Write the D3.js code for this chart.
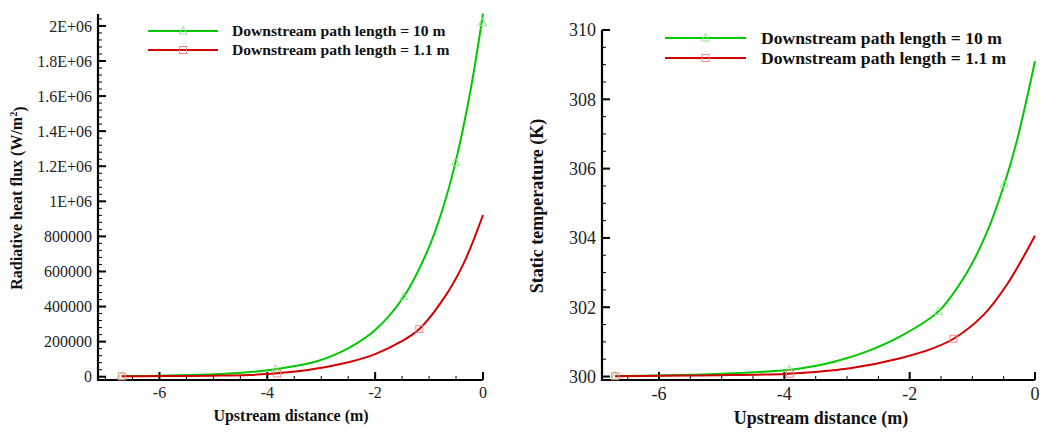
<!DOCTYPE html>
<html>
<head>
<meta charset="utf-8">
<script src="https://cdn.jsdelivr.net/npm/d3@7"></script>
<style>
  body { margin: 0; background: #fff; }
  svg { display: block; }
</style>
</head>
<body>
<svg id="chart" width="1046" height="434"></svg>
<script>
'use strict';

// ---- data ----
var seriesNames = ["Downstream path length = 10 m", "Downstream path length = 1.1 m"];

// left panel: radiative heat flux (W/m2) vs upstream distance (m)
var fluxLongX = [-6.7, -6.0, -5.0, -4.32, -3.85, -3.08, -2.46, -2.0, -1.47, -1.04, -0.76, -0.51, -0.236, 0];
var fluxLongY = [3000, 6000, 13500, 26500, 43000, 88000, 169000, 266000, 456000, 710000, 945000, 1222000, 1625000, 2070000];
var fluxShortX = [-6.7, -6.0, -5.0, -4.32, -3.82, -3.08, -2.46, -2.0, -1.53, -1.18, -0.73, -0.36, 0];
var fluxShortY = [2000, 3500, 6000, 10000, 19000, 47000, 85500, 129000, 198000, 272000, 445000, 645000, 922000];
var fluxLongMarkX = [-6.7, -3.85, -1.47, -0.51, -0.01];
var fluxLongMarkY = [3000, 43000, 456000, 1222000, 2020000];
var fluxShortMarkX = [-6.7, -3.82, -1.18];
var fluxShortMarkY = [2000, 19000, 272000];
var fluxTicks = [0, 200000, 400000, 600000, 800000, 1000000, 1200000, 1400000, 1600000, 1800000, 2000000];
var fluxTickLabels = ["0", "200000", "400000", "600000", "800000", "1E+06", "1.2E+06", "1.4E+06", "1.6E+06", "1.8E+06", "2E+06"];

// right panel: static temperature (K) vs upstream distance (m)
var tempLongX = [-6.7, -6.0, -5.0, -4.0, -3.75, -3.22, -2.69, -2.15, -1.54, -1.09, -0.77, -0.49, -0.29, 0];
var tempLongY = [300.015, 300.03, 300.08, 300.18, 300.23, 300.42, 300.72, 301.16, 301.88, 302.99, 304.15, 305.55, 306.8, 309.1];
var tempShortX = [-6.7, -6.0, -5.0, -4.0, -3.75, -2.95, -2.15, -1.62, -1.3, -0.82, -0.45, 0];
var tempShortY = [300.01, 300.02, 300.04, 300.075, 300.1, 300.24, 300.53, 300.82, 301.09, 301.78, 302.65, 304.06];
var tempLongMarkX = [-6.7, -3.92, -1.54, -0.49];
var tempLongMarkY = [300.015, 300.19, 301.88, 305.55];
var tempShortMarkX = [-6.7, -3.91, -1.3];
var tempShortMarkY = [300.01, 300.08, 301.09];
var tempTicks = [300, 302, 304, 306, 308, 310];
var tempTickLabels = ["300", "302", "304", "306", "308", "310"];

var distTicks = [-6, -4, -2, 0];
var distTickLabels = ["-6", "-4", "-2", "0"];

var GREEN = "#00c800";
var RED = "#d00000";
var SERIF = "'Liberation Serif', Tinos, 'Times New Roman', 'DejaVu Serif', serif";

var svg = d3.select("#chart");

function zip(xs, ys) {
    return xs.map(function(x, i) { return [x, ys[i]]; });
}

function drawPanel(cfg) {
    var x = d3.scaleLinear().domain(cfg.xDomain).range(cfg.xRange);
    var y = d3.scaleLinear().domain(cfg.yDomain).range(cfg.yRange);
    var g = svg.append("g");
    var x0 = cfg.xRange[0], y0 = cfg.yRange[0];

    // minor ticks
    var xMinor = d3.range(Math.ceil(cfg.xDomain[0] / 0.5) * 0.5, 0.001, 0.5);
    g.selectAll(".xminor").data(xMinor).enter().append("line")
        .attr("x1", function(d) { return x(d); }).attr("x2", function(d) { return x(d); })
        .attr("y1", y0).attr("y2", y0 - 4)
        .attr("stroke", "#000").attr("stroke-width", 1);
    var yMinor = d3.range(cfg.yMinorStart, cfg.yDomain[1] + 1e-9, cfg.yMinorStep);
    g.selectAll(".yminor").data(yMinor).enter().append("line")
        .attr("x1", x0).attr("x2", x0 + 4)
        .attr("y1", function(d) { return y(d); }).attr("y2", function(d) { return y(d); })
        .attr("stroke", "#000").attr("stroke-width", 1);

    // major ticks
    g.selectAll(".xmajor").data(distTicks).enter().append("line")
        .attr("x1", function(d) { return x(d); }).attr("x2", function(d) { return x(d); })
        .attr("y1", y0).attr("y2", y0 - 8)
        .attr("stroke", "#000").attr("stroke-width", 2);
    g.selectAll(".ymajor").data(cfg.yTicks).enter().append("line")
        .attr("x1", x0).attr("x2", x0 + 8)
        .attr("y1", function(d) { return y(d); }).attr("y2", function(d) { return y(d); })
        .attr("stroke", "#000").attr("stroke-width", 2);

    // axis lines
    g.append("path")
        .attr("d", "M" + x0 + "," + cfg.yRange[1] + "V" + y0 + "H" + cfg.xRange[1])
        .attr("fill", "none").attr("stroke", "#000").attr("stroke-width", 2.2);

    // tick labels
    g.selectAll(".xlab").data(distTicks).enter().append("text")
        .attr("x", function(d) { return x(d); })
        .attr("y", y0 + cfg.fontSize + 2)
        .attr("text-anchor", "middle")
        .style("font-family", SERIF).style("fill", "#222")
        .style("font-size", cfg.fontSize + "px")
        .text(function(d, i) { return distTickLabels[i]; });
    g.selectAll(".ylab").data(cfg.yTicks).enter().append("text")
        .attr("x", x0 - 6)
        .attr("y", function(d) { return y(d); })
        .attr("dy", "0.35em")
        .attr("text-anchor", "end")
        .style("font-family", SERIF).style("fill", "#222")
        .style("font-size", cfg.fontSize + "px")
        .text(function(d, i) { return cfg.yTickLabels[i]; });

    // titles
    g.append("text")
        .attr("x", cfg.xTitlePos[0]).attr("y", cfg.xTitlePos[1])
        .attr("text-anchor", "middle")
        .style("font-family", SERIF).style("font-weight", "bold").style("fill", "#111")
        .style("font-size", cfg.titleSize + "px")
        .text("Upstream distance (m)");
    var yt = g.append("text")
        .attr("transform", "translate(" + cfg.yTitlePos[0] + "," + cfg.yTitlePos[1] + ") rotate(-90)")
        .attr("text-anchor", "middle")
        .style("font-family", SERIF).style("font-weight", "bold").style("fill", "#111")
        .style("font-size", cfg.titleSize + "px");
    yt.append("tspan").text(cfg.yTitle[0]);
    if (cfg.yTitle.length > 1) {
        yt.append("tspan").attr("dy", "-0.45em").style("font-size", (cfg.titleSize * 0.65) + "px").text(cfg.yTitle[1]);
        yt.append("tspan").attr("dy", "0.45em").text(cfg.yTitle[2]);
    }

    // curves
    var line = d3.line()
        .x(function(d) { return x(d[0]); })
        .y(function(d) { return y(d[1]); })
        .curve(d3.curveCatmullRom.alpha(0.5));

    cfg.series.forEach(function(s) {
        g.append("path")
            .datum(zip(s.xs, s.ys))
            .attr("d", line)
            .attr("fill", "none")
            .attr("stroke", s.color)
            .attr("stroke-width", 2);
        drawMarkers(g, zip(s.mx, s.my).map(function(p) { return [x(p[0]), y(p[1])]; }), s.marker, s.markColor);
    });

    // legend
    cfg.series.forEach(function(s, i) {
        var ly = cfg.legend.y + i * cfg.legend.gap;
        g.append("line")
            .attr("x1", cfg.legend.x1).attr("x2", cfg.legend.x2)
            .attr("y1", ly).attr("y2", ly)
            .attr("stroke", s.color).attr("stroke-width", 2);
        drawMarkers(g, [[(cfg.legend.x1 + cfg.legend.x2) / 2, ly]], s.marker, s.markColor);
        g.append("text")
            .attr("x", cfg.legend.tx).attr("y", ly)
            .attr("dy", "0.35em")
            .style("font-family", SERIF).style("font-weight", "bold").style("fill", "#111")
            .style("font-size", cfg.legend.size + "px")
            .text(seriesNames[i]);
    });
}

function drawMarkers(g, pts, type, color) {
    if (type === "triangle") {
        g.selectAll(null).data(pts).enter().append("path")
            .attr("d", function(p) {
                return "M" + p[0] + "," + (p[1] - 4.5) + "L" + (p[0] + 4) + "," + (p[1] + 3) + "L" + (p[0] - 4) + "," + (p[1] + 3) + "Z";
            })
            .attr("fill", "none").attr("stroke", color).attr("stroke-width", 1);
    } else {
        g.selectAll(null).data(pts).enter().append("rect")
            .attr("x", function(p) { return p[0] - 3.5; })
            .attr("y", function(p) { return p[1] - 3.5; })
            .attr("width", 7).attr("height", 7)
            .attr("fill", "none").attr("stroke", color).attr("stroke-width", 1);
    }
}

drawPanel({
    xDomain: [-7.14, 0], xRange: [98, 483],
    yDomain: [-18800, 2068000], yRange: [380, 14],
    yTicks: fluxTicks, yTickLabels: fluxTickLabels,
    yMinorStart: 0, yMinorStep: 40000,
    fontSize: 16, titleSize: 16,
    xTitlePos: [291, 421],
    yTitlePos: [22, 198],
    yTitle: ["Radiative heat flux (W/m", "2", ")"],
    legend: { x1: 148, x2: 218, y: 31, gap: 19, tx: 232, size: 15.6 },
    series: [
        { xs: fluxLongX, ys: fluxLongY, mx: fluxLongMarkX, my: fluxLongMarkY, color: GREEN, marker: "triangle", markColor: "#8fe68f" },
        { xs: fluxShortX, ys: fluxShortY, mx: fluxShortMarkX, my: fluxShortMarkY, color: RED, marker: "square", markColor: "#f08a8a" }
    ]
});

drawPanel({
    xDomain: [-6.91, 0], xRange: [602, 1035],
    yDomain: [299.9, 310], yRange: [380, 30],
    yTicks: tempTicks, yTickLabels: tempTickLabels,
    yMinorStart: 300, yMinorStep: 0.5,
    fontSize: 18, titleSize: 18,
    xTitlePos: [821, 424],
    yTitlePos: [543, 206],
    yTitle: ["Static temperature (K)"],
    legend: { x1: 665, x2: 746, y: 38, gap: 20, tx: 761, size: 17.6 },
    series: [
        { xs: tempLongX, ys: tempLongY, mx: tempLongMarkX, my: tempLongMarkY, color: GREEN, marker: "triangle", markColor: "#8fe68f" },
        { xs: tempShortX, ys: tempShortY, mx: tempShortMarkX, my: tempShortMarkY, color: RED, marker: "square", markColor: "#f08a8a" }
    ]
});
</script>
</body>
</html>
